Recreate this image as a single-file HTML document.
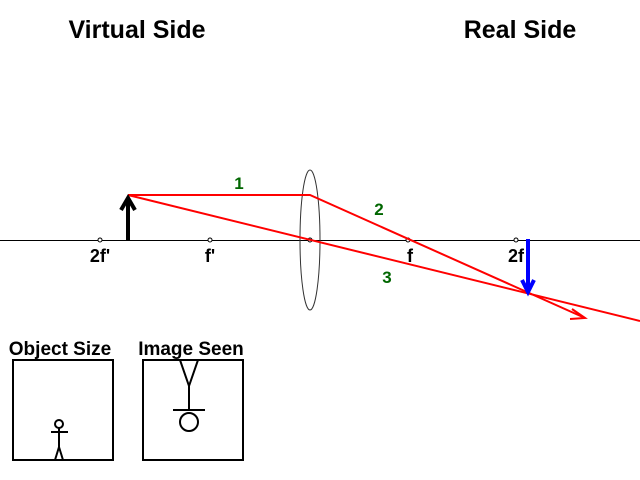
<!DOCTYPE html>
<html><head><style>body{margin:0;background:#fff}svg{display:block}text{font-family:"Liberation Sans",sans-serif;font-weight:bold}</style></head>
<body>
<svg width="640" height="480" viewBox="0 0 640 480">
<text x="137" y="38" font-size="25" text-anchor="middle">Virtual Side</text>
<text x="520" y="38" font-size="25" text-anchor="middle">Real Side</text>
<line x1="0" y1="240.5" x2="640" y2="240.5" stroke="#000" stroke-width="1"/>
<ellipse cx="310" cy="240" rx="10" ry="70" fill="none" stroke="#333" stroke-width="1"/>
<g fill="#fff" stroke="#000" stroke-width="1">
<circle cx="100" cy="240" r="2"/><circle cx="210" cy="240" r="2"/><circle cx="310" cy="240" r="2"/><circle cx="408" cy="240" r="2"/><circle cx="516" cy="240" r="2"/>
</g>
<g font-size="18" text-anchor="middle">
<text x="100" y="262">2f'</text><text x="210" y="262">f'</text><text x="410" y="262">f</text><text x="516" y="262">2f</text>
</g>
<g stroke="red" stroke-width="2" fill="none">
<polyline points="128,195 310,195 585,318"/>
<line x1="128" y1="195" x2="640" y2="321"/>
<polyline points="572,309 585,318 570,319"/>
</g>
<g fill="#006600" font-size="17" text-anchor="middle">
<text x="239" y="189">1</text><text x="379" y="215">2</text><text x="387" y="283">3</text>
</g>
<line x1="128" y1="240" x2="128" y2="200" stroke="#000" stroke-width="4"/>
<polyline points="121,210 128,198 135,210" fill="none" stroke="#000" stroke-width="4"/>
<line x1="528" y1="239" x2="528" y2="290" stroke="#00f" stroke-width="4"/>
<polyline points="522,280 528,292 534,280" fill="none" stroke="#00f" stroke-width="4"/>
<g font-size="19" text-anchor="middle"><text x="60" y="355">Object Size</text><text x="191" y="355">Image Seen</text></g>
<g fill="none" stroke="#000" stroke-width="2">
<rect x="13" y="360" width="100" height="100"/>
<rect x="143" y="360" width="100" height="100"/>
<circle cx="59" cy="424" r="4"/>
<line x1="51" y1="432" x2="68" y2="432"/>
<polyline points="59,428 59,447 55,460"/><line x1="59" y1="447" x2="63" y2="460"/>
<polyline points="180,360 189,386 198,360"/>
<line x1="189" y1="386" x2="189" y2="410"/>
<line x1="173" y1="410" x2="205" y2="410"/>
<circle cx="189" cy="422" r="9"/>
</g>
</svg>
</body></html>
